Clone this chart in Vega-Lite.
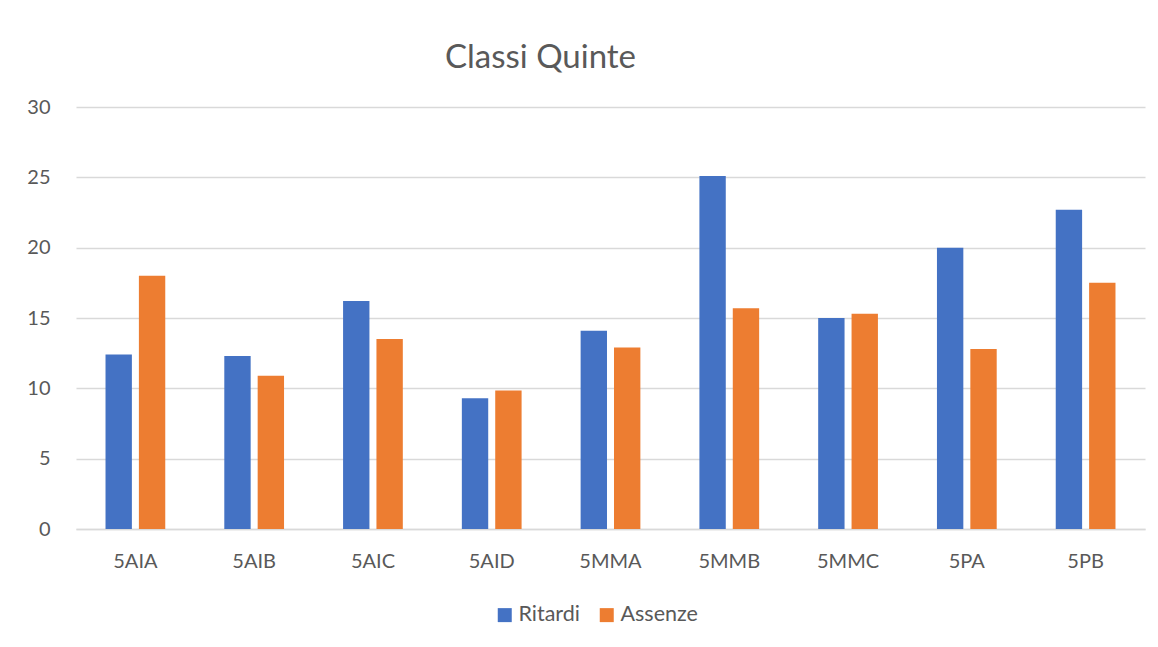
{
  "$schema": "https://vega.github.io/schema/vega-lite/v6.json",
  "autosize": "none",
  "padding": {"left": 76, "top": 107, "right": 13, "bottom": 118},
  "width": 1069,
  "height": 422,
  "background": "#ffffff",
  "title": {
    "text": "Classi Quinte",
    "anchor": "start",
    "frame": "group",
    "dx": 369,
    "offset": -4,
    "baseline": "alphabetic",
    "font": "Lato",
    "fontSize": 33,
    "fontWeight": "normal",
    "color": "#595959"
  },
  "data": {
    "values": [
      {"classe": "5AIA", "serie": "Ritardi", "valore": 12.4},
      {"classe": "5AIA", "serie": "Assenze", "valore": 18.0},
      {"classe": "5AIB", "serie": "Ritardi", "valore": 12.3},
      {"classe": "5AIB", "serie": "Assenze", "valore": 10.9},
      {"classe": "5AIC", "serie": "Ritardi", "valore": 16.2},
      {"classe": "5AIC", "serie": "Assenze", "valore": 13.5},
      {"classe": "5AID", "serie": "Ritardi", "valore": 9.3},
      {"classe": "5AID", "serie": "Assenze", "valore": 9.85},
      {"classe": "5MMA", "serie": "Ritardi", "valore": 14.1},
      {"classe": "5MMA", "serie": "Assenze", "valore": 12.9},
      {"classe": "5MMB", "serie": "Ritardi", "valore": 25.1},
      {"classe": "5MMB", "serie": "Assenze", "valore": 15.7},
      {"classe": "5MMC", "serie": "Ritardi", "valore": 15.0},
      {"classe": "5MMC", "serie": "Assenze", "valore": 15.3},
      {"classe": "5PA", "serie": "Ritardi", "valore": 20.0},
      {"classe": "5PA", "serie": "Assenze", "valore": 12.8},
      {"classe": "5PB", "serie": "Ritardi", "valore": 22.7},
      {"classe": "5PB", "serie": "Assenze", "valore": 17.5}
    ]
  },
  "mark": {"type": "bar"},
  "encoding": {
    "x": {
      "field": "classe",
      "type": "nominal",
      "sort": null,
      "scale": {"paddingInner": 0.497, "paddingOuter": 0.2485},
      "axis": {
        "title": null,
        "labelAngle": 0,
        "ticks": false,
        "tickSize": 0,
        "labelPadding": 22,
        "labelFont": "Lato",
        "labelFontSize": 20,
        "labelColor": "#595959",
        "domain": true,
        "domainColor": "#D9D9D9",
        "domainWidth": 1.3,
        "grid": false
      }
    },
    "xOffset": {
      "field": "serie",
      "type": "nominal",
      "scale": {"domain": ["Ritardi", "Assenze"], "paddingInner": 0.21, "paddingOuter": 0}
    },
    "y": {
      "field": "valore",
      "type": "quantitative",
      "scale": {"domain": [0, 30], "nice": false},
      "axis": {
        "title": null,
        "values": [0, 5, 10, 15, 20, 25, 30],
        "ticks": false,
        "tickSize": 0,
        "domain": false,
        "labelPadding": 26,
        "labelFont": "Lato",
        "labelFontSize": 20,
        "labelColor": "#595959",
        "grid": true,
        "gridColor": "#D9D9D9",
        "gridWidth": 1.3
      }
    },
    "color": {
      "field": "serie",
      "type": "nominal",
      "scale": {"domain": ["Ritardi", "Assenze"], "range": ["#4472C4", "#ED7D31"]},
      "legend": {
        "title": null,
        "orient": "none",
        "direction": "horizontal",
        "legendX": 418,
        "legendY": 497,
        "symbolType": "square",
        "symbolSize": 196,
        "symbolStrokeWidth": 0,
        "labelFont": "Lato",
        "labelFontSize": 21.5,
        "labelColor": "#595959",
        "labelOffset": 3,
        "columnPadding": 16
      }
    }
  },
  "config": {
    "view": {"stroke": null}
  }
}
